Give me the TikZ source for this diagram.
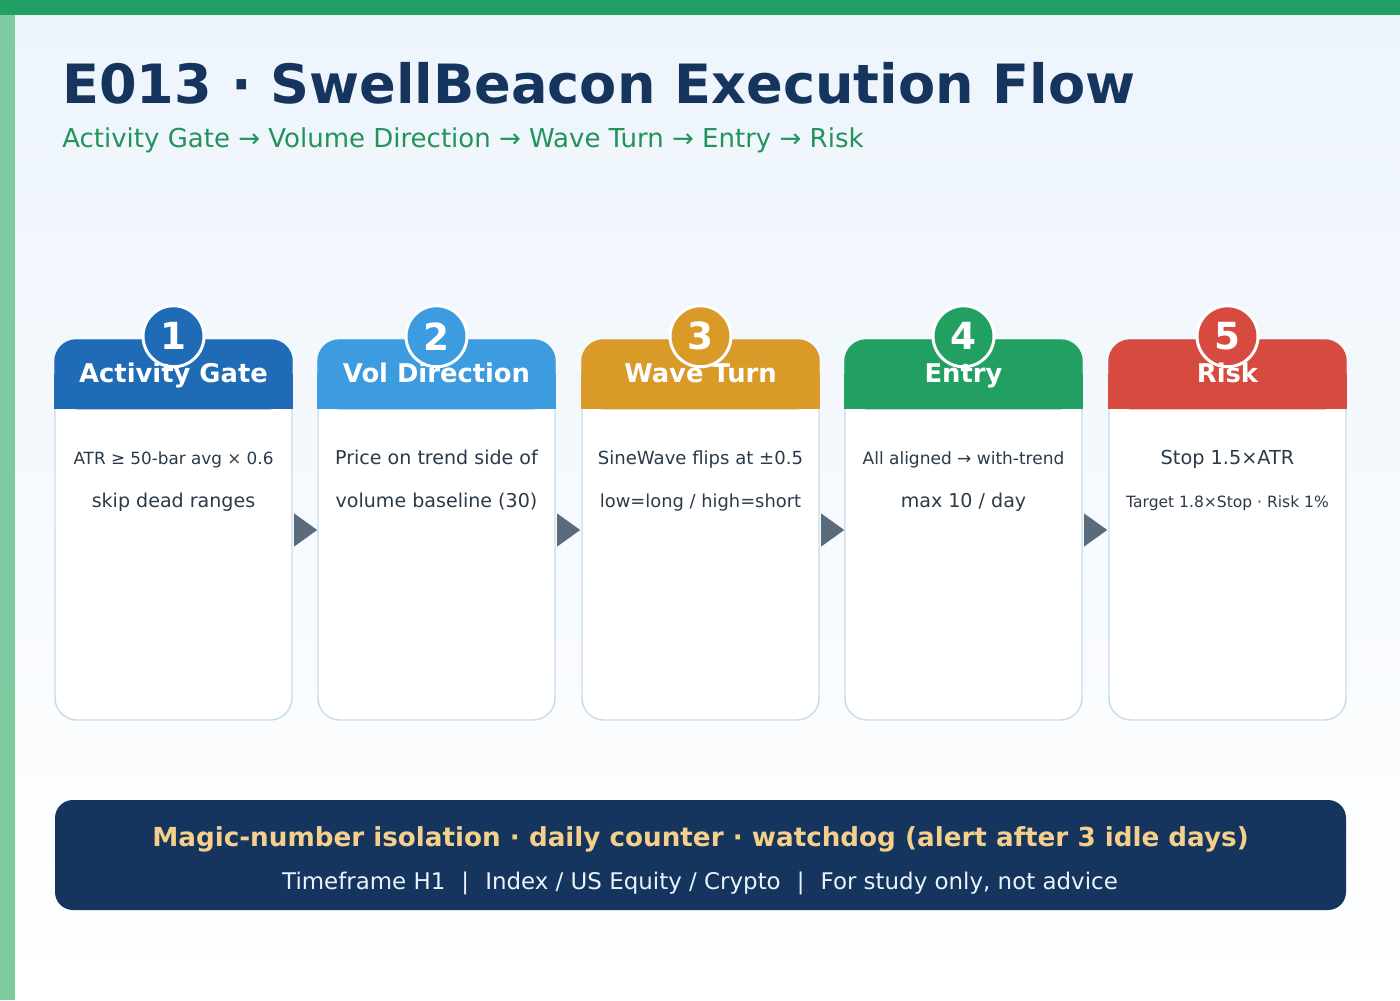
\documentclass[tikz,border=0pt]{standalone}
\usepackage{fontspec}
\setmainfont{DejaVu Sans}
\usetikzlibrary{shapes.geometric,calc}
\definecolor{navy}{HTML}{15355E}
\definecolor{topbar}{HTML}{21A063}
\definecolor{sidebar}{HTML}{7DCB9E}
\definecolor{subgreen}{HTML}{22935B}
\definecolor{bgtop}{HTML}{EDF4FC}
\definecolor{hcA}{HTML}{1F6BB5}
\definecolor{hcB}{HTML}{3D9BDF}
\definecolor{hcC}{HTML}{D99A27}
\definecolor{hcD}{HTML}{21A062}
\definecolor{hcE}{HTML}{D64A3F}
\definecolor{cardline}{HTML}{C8DCEA}
\definecolor{arrowgray}{HTML}{5A6B7C}
\definecolor{bodyink}{HTML}{2B3A48}
\definecolor{banyellow}{HTML}{F4D08A}
\definecolor{banwhite}{HTML}{EAF2FA}
\newcommand{\fs}[1]{\fontsize{#1}{#1}\selectfont}
\newcommand{\flowcard}[6]{%
  \node[cardbody] (c#1) at (#2,530) {};
  \fill[#3, rounded corners=16.5pt] (c#1.north west) rectangle ($(c#1.north east)+(0,70)$);
  \fill[#3] ($(c#1.north west)+(0,35)$) rectangle ($(c#1.north east)+(0,70)$);
  \node[numcirc, fill=#3] (n#1) at ($(c#1.north)+(0,-3)$) {#1};
  \node[headtext] (h#1) at ($(c#1.north)+(0,43)$) {#4};
  \node[bodytext] (a#1) at ($(c#1.north)+(0,125)$) {#5};
  \node[bodytext] (b#1) at ($(c#1.north)+(0,168)$) {#6};
}
\begin{document}
\begin{tikzpicture}[x=0.75pt,y=-0.75pt,
  cardbody/.style={draw=cardline, line width=1.1pt, fill=white, rounded corners=16.5pt,
    minimum width=177.75pt, minimum height=285pt, inner sep=0pt},
  numcirc/.style={circle, draw=white, line width=2.25pt, minimum size=45.75pt, inner sep=0pt,
    text=white, font=\bfseries\fs{28}},
  headtext/.style={anchor=base, inner sep=0pt, text=white, font=\bfseries\fs{19.35}},
  bodytext/.style={anchor=base, inner sep=0pt, text=bodyink, font=\fs{14.3}},
  tri/.style={isosceles triangle, isosceles triangle stretches, fill=arrowgray, inner sep=0pt,
    minimum width=24.75pt, minimum height=17.25pt, anchor=lower side, xshift=0.9pt},
  banner/.style={fill=navy, rounded corners=13.5pt, minimum width=968.25pt, minimum height=82.5pt, inner sep=0pt}
]
\useasboundingbox (0,0) rectangle (1400,1000);
\shade[top color=bgtop, bottom color=white] (0,0) rectangle (1400,1000);
\fill[topbar] (0,0) rectangle (1400,15);
\fill[sidebar] (0,15) rectangle (15,1000);

\node[anchor=base west, inner sep=0pt, text=navy, font=\bfseries\fs{40.6}] (title) at (62,103) {E013 · SwellBeacon Execution Flow};
\node[anchor=base west, inner sep=0pt, text=subgreen, font=\fs{19.5}] (subtitle) at (62,147) {Activity Gate → Volume Direction → Wave Turn → Entry → Risk};

\flowcard{1}{173.5}{hcA}{Activity Gate}{\fs{12.6}ATR ≥ 50-bar avg × 0.6}{skip dead ranges}
\flowcard{2}{436.5}{hcB}{Vol Direction}{Price on trend side of}{volume baseline (30)}
\flowcard{3}{700.5}{hcC}{Wave Turn}{\fs{13.55}SineWave flips at ±0.5}{\fs{13.4}low=long / high=short}
\flowcard{4}{963.5}{hcD}{Entry}{\fs{12.75}All aligned → with-trend}{max 10 / day}
\flowcard{5}{1227.5}{hcE}{Risk}{\fs{14.45}Stop 1.5×ATR}{\fs{11.65}Target 1.8×Stop · Risk 1\%}

\path (c1.east) -- (c2.west) node[pos=0, tri] (t12) {};
\path (c2.east) -- (c3.west) node[pos=0, tri] (t23) {};
\path (c3.east) -- (c4.west) node[pos=0, tri] (t34) {};
\path (c4.east) -- (c5.west) node[pos=0, tri] (t45) {};

\node[banner] (ban) at (700.5,855) {};
\node[anchor=base, inner sep=0pt, text=banyellow, font=\bfseries\fs{19.65}] (ban1) at (700.5,846) {Magic-number isolation · daily counter · watchdog (alert after 3 idle days)};
\node[anchor=base, inner sep=0pt, text=banwhite, font=\fs{17.2}] (ban2) at (700,889) {Timeframe H1\hspace{0.7em}|\hspace{0.7em}Index / US Equity / Crypto\hspace{0.7em}|\hspace{0.7em}For study only, not advice};
\end{tikzpicture}
\end{document}
